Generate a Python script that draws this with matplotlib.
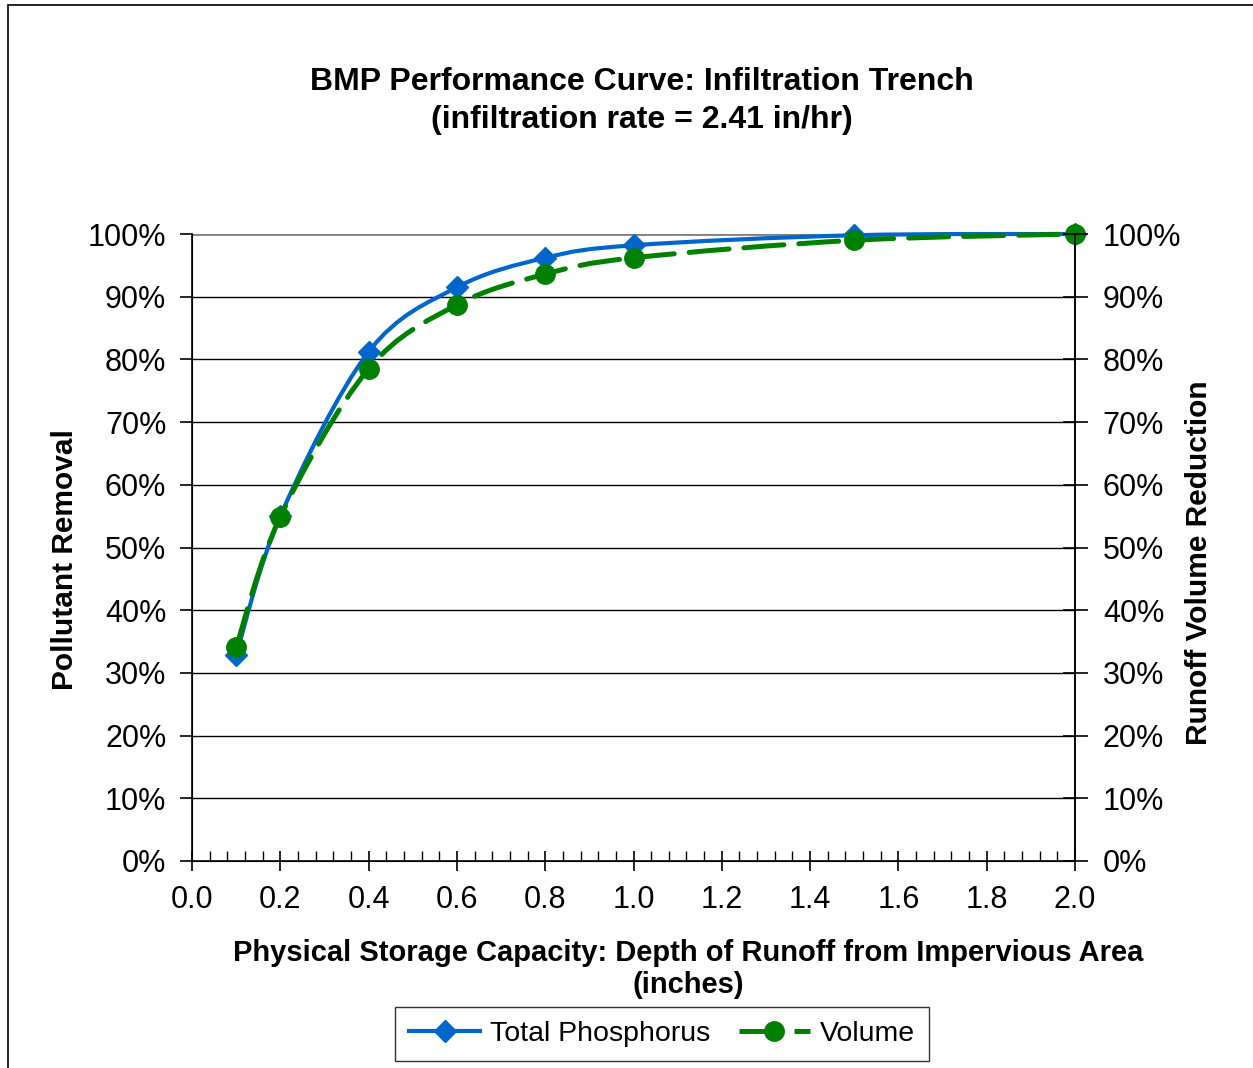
import matplotlib
matplotlib.use("Agg")
import numpy as np
from matplotlib import pyplot as plt
from matplotlib.path import Path
from matplotlib.patches import PathPatch, Rectangle
from matplotlib.lines import Line2D
from matplotlib.ticker import MultipleLocator, PercentFormatter

plt.rcParams['font.family'] = ['Liberation Sans', 'DejaVu Sans']

depth = [0.1, 0.2, 0.4, 0.6, 0.8, 1.0, 1.5, 2.0]
total_phosphorus = [0.329, 0.55, 0.812, 0.915, 0.962, 0.982, 0.998, 1.0]
volume = [0.341, 0.549, 0.785, 0.887, 0.936, 0.962, 0.990, 1.0]

blue = "#0066CC"
green = "#008000"


def smooth_path(x, y):
    # Excel-style smoothed line: cubic bezier through each point
    pts = np.column_stack([x, y])
    verts = [pts[0]]
    codes = [Path.MOVETO]
    n = len(pts)
    for i in range(n - 1):
        p0 = pts[i - 1] if i > 0 else pts[i]
        p1 = pts[i]
        p2 = pts[i + 1]
        p3 = pts[i + 2] if i + 2 < n else pts[i + 1]
        c1 = p1 + (p2 - p0) / 6.0
        c2 = p2 - (p3 - p1) / 6.0
        verts += [c1, c2, p2]
        codes += [Path.CURVE4] * 3
    return Path(verts, codes)


fig = plt.figure(figsize=(12.53, 10.68), dpi=100)
ax = fig.add_axes([192 / 1253, 1 - 861 / 1068, (1075 - 192) / 1253, (861 - 234) / 1068])

# outer chart frame
fig.patches.append(Rectangle((8 / 1253, -0.01), 1.2, 1 - 5 / 1068 + 0.01, transform=fig.transFigure,
                             fill=False, edgecolor="black", linewidth=1.2))

ax.set_xlim(0, 2.0)
ax.set_ylim(0, 1.0)
for y in np.arange(0.1, 1.01, 0.1):
    ax.axhline(y, color="black" if y < 0.99 else "#808080", linewidth=1.0 if y < 0.99 else 2.0, zorder=1)

ax.add_patch(PathPatch(smooth_path(depth, total_phosphorus), fill=False, edgecolor=blue,
                       linewidth=3.0, zorder=3, clip_on=False))
ax.plot(depth, total_phosphorus, linestyle="none", marker="D", markersize=11, color=blue, zorder=4,
        clip_on=False)

ax.add_patch(PathPatch(smooth_path(depth, volume), fill=False, edgecolor=green,
                       linewidth=3.6, linestyle=(0, (8, 3)), capstyle="round", zorder=5, clip_on=False))
ax.plot(depth, volume, linestyle="none", marker="o", markersize=14, color=green, zorder=6, clip_on=False)

ax.spines["top"].set_visible(False)
for s in ["left", "bottom", "right"]:
    ax.spines[s].set_linewidth(1.2)

ax.xaxis.set_major_locator(MultipleLocator(0.2))
ax.xaxis.set_minor_locator(MultipleLocator(0.04))
ax.xaxis.set_major_formatter(lambda v, p: f"{v:.1f}")
ax.tick_params(axis="x", which="major", direction="inout", length=15, width=1.2, labelsize=22, pad=10)
ax.tick_params(axis="x", which="minor", direction="in", length=7, width=1.0)

ax.yaxis.set_major_locator(MultipleLocator(0.1))
ax.yaxis.set_major_formatter(PercentFormatter(1.0, decimals=0))
ax.tick_params(axis="y", which="major", direction="out", length=9, width=1.2, labelsize=22, pad=9.5)

ax2 = ax.twinx()
ax2.set_ylim(0, 1.0)
ax2.yaxis.set_major_locator(MultipleLocator(0.1))
ax2.yaxis.set_major_formatter(PercentFormatter(1.0, decimals=0))
ax2.tick_params(axis="y", which="major", direction="inout", length=18, width=1.2, labelsize=22, pad=11)
ax2.spines["top"].set_visible(False)
ax2.spines["right"].set_linewidth(1.2)

ax.set_ylabel("Pollutant Removal", fontsize=21.5, fontweight="bold", labelpad=6)
ax2.set_ylabel("Runoff Volume Reduction", fontsize=21.5, fontweight="bold", labelpad=3)
ax.yaxis.label.set_y(0.48)
ax2.yaxis.label.set_y(0.475)
fig.text(688 / 1253, 1 - 969 / 1068, "Physical Storage Capacity: Depth of Runoff from Impervious Area\n(inches)",
         ha="center", va="center", fontsize=21, fontweight="bold", linespacing=1.2)
fig.text(642 / 1253, 1 - 101 / 1068, "BMP Performance Curve: Infiltration Trench\n(infiltration rate = 2.41 in/hr)",
         ha="center", va="center", fontsize=23, fontweight="bold", linespacing=1.38)

handles = [
    Line2D([], [], color=blue, linewidth=3.0, marker="D", markersize=11),
    Line2D([], [], color=green, linewidth=3.6, linestyle=(0, (8, 3)), marker="o", markersize=14),
]
fig.legend(handles, ["Total Phosphorus", "Volume"], loc="center", bbox_to_anchor=(662 / 1253, 1 - 1034 / 1068),
           ncol=2, fontsize=20.5, frameon=True, fancybox=False, edgecolor="black", handlelength=2.5,
           handletextpad=0.35, columnspacing=1.0, borderpad=0.5, borderaxespad=0)

fig.savefig("out.png", dpi=100)
